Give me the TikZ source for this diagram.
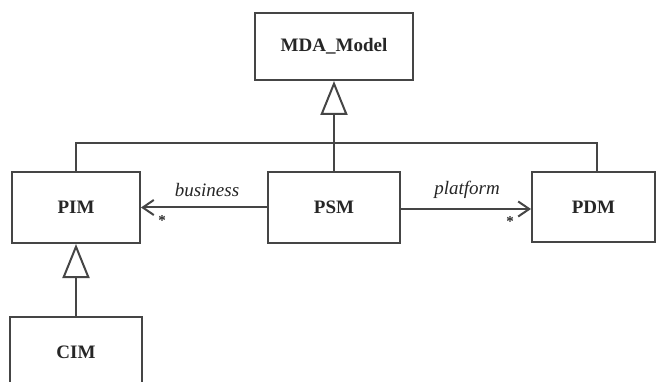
\documentclass[tikz,border=0pt]{standalone}
\usepackage{fontspec}
\setmainfont{Liberation Serif}
\usetikzlibrary{arrows.meta}
\definecolor{linegray}{gray}{0.27}
\definecolor{textgray}{gray}{0.15}
\begin{document}
\begin{tikzpicture}[x=1pt,y=-1pt,
  line/.style={draw=linegray, line width=2pt},
  cls/.style={line, fill=white, inner sep=0pt, text=textgray,
    font=\fontsize{19}{19}\selectfont\bfseries},
  role/.style={text=textgray, inner sep=0pt, font=\fontsize{19}{19}\selectfont\itshape},
  mult/.style={text=textgray, inner sep=0pt, font=\fontsize{15}{15}\selectfont\bfseries},
  gen/.style={line, -{Triangle[open, length=34pt, width=27pt, line width=2pt]}},
  assoc/.style={line, -{Straight Barb[length=11pt, width=15pt, line width=2pt]}}]
\useasboundingbox (0,0) rectangle (656,382);
\fill[white] (0,0) rectangle (656,382);

% classes
\node[cls, minimum width=158pt, minimum height=67pt] (MDA) at (334,46.5) {MDA\_Model};
\node[cls, minimum width=128pt, minimum height=71pt] (PIM) at (76,207.5) {PIM};
\node[cls, minimum width=132pt, minimum height=71pt] (PSM) at (334,207.5) {PSM};
\node[cls, minimum width=123pt, minimum height=70pt] (PDM) at (593.5,207.5) {PDM};
\node[cls, minimum width=132pt, minimum height=70pt] (CIM) at (76,352) {CIM};

% generalization tree towards MDA_Model
\coordinate (hub) at (334,143);
\coordinate (pdmtop) at ([xshift=3.5pt]PDM.north);
\draw[line] (PIM.north) |- (hub) -| (pdmtop);
\draw[line] (PSM.north) -- (hub);
\draw[gen] (hub) -- (MDA.south);

% CIM specializes PIM
\draw[gen] (CIM.north) -- (PIM.south);

% associations
\draw[assoc] (PSM.west) -- (PIM.east);
\draw[assoc] ([yshift=-1.5pt]PSM.east) -- ([yshift=-1.5pt]PDM.west);
\node[role] (business) at (207,190) {business};
\node[role] (platform) at (467,190) {platform};
\node[mult] (m1) at (162,221) {*};
\node[mult] (m2) at (510,222) {*};
\end{tikzpicture}
\end{document}
